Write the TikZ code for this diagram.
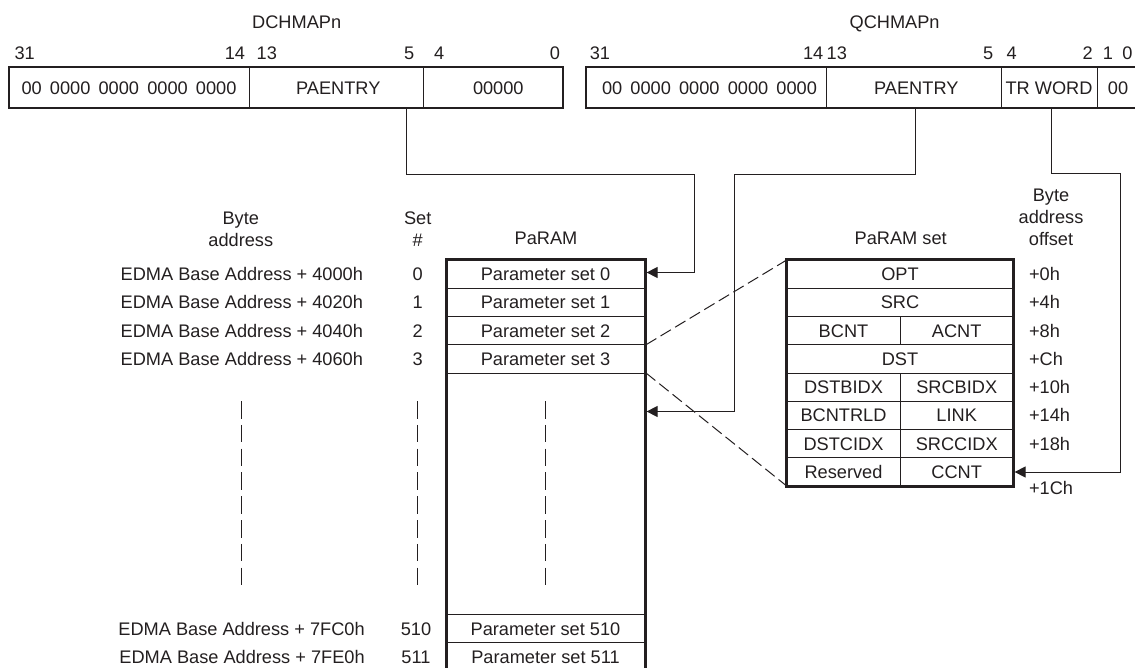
\documentclass[tikz,border=0pt]{standalone}
\usepackage{fontspec}
\setmainfont{Liberation Sans}
\usetikzlibrary{arrows.meta}
\definecolor{ink}{HTML}{231F20}
\newcommand\gp{\hspace{0.45em}}
\begin{document}
\begin{tikzpicture}[x=0.5pt,y=-0.5pt,
  every node/.style={inner sep=0pt,outer sep=0pt,text=ink,font=\fontsize{9.1}{11}\selectfont},
  lbl/.style={text height=6.52pt,text depth=0pt},
  multi/.style={align=center,anchor=north},
  thinline/.style={draw=ink,line width=0.5pt},
  regbox/.style={draw=ink,line width=1pt},
  bigbox/.style={draw=ink,line width=1.5pt},
  conn/.style={draw=ink,line width=0.5pt},
  tip/.style={-{Triangle[length=5.5pt,width=5.5pt]}},
  zoomline/.style={draw=ink,line width=0.5pt,dash pattern=on 6pt off 2.5pt},
  gapline/.style={draw=ink,line width=0.5pt,dash pattern=on 8.75pt off 3.15pt}]
\useasboundingbox (0,0) rectangle (1135,668);

% ---------------- DCHMAPn register ----------------
\node[lbl] (dtitle) at (296.7,21.7) {DCHMAPn};
\node[lbl,anchor=west] (db31) at (14.5,53.3) {31};
\node[lbl,anchor=east] (db14) at (245,53.3) {14};
\node[lbl,anchor=west] (db13) at (256.7,53.3) {13};
\node[lbl,anchor=east] (db5) at (414.3,53.3) {5};
\node[lbl,anchor=west] (db4) at (434,53.3) {4};
\node[lbl,anchor=east] (db0) at (560,53.3) {0};
\draw[thinline] (249,66.7) -- (249,108.3) (423.3,66.7) -- (423.3,108.3);
\draw[regbox] (9,66.7) rectangle (563.3,108.3);
\node[lbl] (dzero) at (129,88.3) {00\gp0000\gp0000\gp0000\gp0000};
\node[lbl] (dpa) at (338.3,88.3) {PAENTRY};
\node[lbl] (dlow) at (498.3,88.3) {00000};

% ---------------- QCHMAPn register ----------------
\node[lbl] (qtitle) at (894.6,21.7) {QCHMAPn};
\node[lbl,anchor=west] (qb31) at (589.8,53.3) {31};
\node[lbl,anchor=east] (qb14) at (823.3,53.3) {14};
\node[lbl,anchor=west] (qb13) at (826.7,53.3) {13};
\node[lbl,anchor=east] (qb5) at (993.3,53.3) {5};
\node[lbl,anchor=west] (qb4) at (1006.7,53.3) {4};
\node[lbl,anchor=east] (qb2) at (1092.7,53.3) {2};
\node[lbl] (qb1) at (1108,53.3) {1};
\node[lbl] (qb0) at (1127.5,53.3) {0};
\draw[thinline] (826,66.7) -- (826,108.3) (1001,66.7) -- (1001,108.3) (1097.7,66.7) -- (1097.7,108.3);
\draw[regbox] (1145,66.7) -- (586.2,66.7) -- (586.2,108.3) -- (1145,108.3);
\node[lbl] (qzero) at (709.5,88.3) {00\gp0000\gp0000\gp0000\gp0000};
\node[lbl] (qpa) at (916.3,88.3) {PAENTRY};
\node[lbl] (qtr) at (1049,88.3) {TR WORD};
\node[lbl] (qlow) at (1118,88.3) {00};

% ---------------- column headings ----------------
\node[multi] (hbyte) at (240.8,211.5) {Byte\\address};
\node[multi] (hset) at (417.7,211.5) {Set\\\#};
\node[lbl] (hparam) at (546,238) {PaRAM};
\node[lbl] (hpset) at (900.7,238) {PaRAM set};
\node[multi] (hoff) at (1051,189) {Byte\\address\\offset};

% ---------------- address / set labels ----------------
\node[lbl,anchor=east] (a0) at (363,274.1) {EDMA Base Address + 4000h};
\node[lbl,anchor=east] (a1) at (363,302.4) {EDMA Base Address + 4020h};
\node[lbl,anchor=east] (a2) at (363,330.6) {EDMA Base Address + 4040h};
\node[lbl,anchor=east] (a3) at (363,358.9) {EDMA Base Address + 4060h};
\node[lbl,anchor=east] (a510) at (364.7,628.5) {EDMA Base Address + 7FC0h};
\node[lbl,anchor=east] (a511) at (364.7,656.8) {EDMA Base Address + 7FE0h};
\node[lbl] (s0) at (417.7,274.1) {0};
\node[lbl] (s1) at (417.7,302.4) {1};
\node[lbl] (s2) at (417.7,330.6) {2};
\node[lbl] (s3) at (417.7,358.9) {3};
\node[lbl] (s510) at (416,628.5) {510};
\node[lbl] (s511) at (416,656.8) {511};

% ---------------- ellipsis dashes ----------------
\draw[gapline] (241,401) -- (241,585);
\draw[gapline] (417.7,401) -- (417.7,585);
\draw[gapline] (545,401) -- (545,585);

% ---------------- zoom lines ----------------
\draw[zoomline] (646,344.75) -- (786.7,260);
\draw[zoomline] (646,373) -- (786.7,486);

% ---------------- PaRAM column ----------------
\draw[thinline] (446,288.25) -- (645,288.25) (446,316.5) -- (645,316.5)
  (446,344.75) -- (645,344.75) (446,373) -- (645,373)
  (446,614.3) -- (645,614.3) (446,642.6) -- (645,642.6);
\draw[bigbox] (446,260) rectangle (645,671);
\node[lbl] (p0) at (545.5,274.1) {Parameter set 0};
\node[lbl] (p1) at (545.5,302.4) {Parameter set 1};
\node[lbl] (p2) at (545.5,330.6) {Parameter set 2};
\node[lbl] (p3) at (545.5,358.9) {Parameter set 3};
\node[lbl] (p510) at (545.5,628.5) {Parameter set 510};
\node[lbl] (p511) at (545.5,656.8) {Parameter set 511};

% ---------------- PaRAM set box ----------------
\draw[thinline] (786.7,288.25) -- (1013,288.25) (786.7,316.5) -- (1013,316.5)
  (786.7,344.75) -- (1013,344.75) (786.7,373) -- (1013,373)
  (786.7,401.25) -- (1013,401.25) (786.7,429.5) -- (1013,429.5)
  (786.7,457.75) -- (1013,457.75)
  (900.3,316.5) -- (900.3,344.75) (900.3,373) -- (900.3,486);
\draw[bigbox] (786.7,260) rectangle (1013,486);
\node[lbl] (opt) at (900,274.1) {OPT};
\node[lbl] (src) at (900,302.4) {SRC};
\node[lbl] (bcnt) at (843.5,330.6) {BCNT};
\node[lbl] (acnt) at (956.7,330.6) {ACNT};
\node[lbl] (dst) at (900,358.9) {DST};
\node[lbl] (dstbidx) at (843.5,387.1) {DSTBIDX};
\node[lbl] (srcbidx) at (956.7,387.1) {SRCBIDX};
\node[lbl] (bcntrld) at (843.5,415.4) {BCNTRLD};
\node[lbl] (link) at (956.7,415.4) {LINK};
\node[lbl] (dstcidx) at (843.5,443.6) {DSTCIDX};
\node[lbl] (srccidx) at (956.7,443.6) {SRCCIDX};
\node[lbl] (rsvd) at (843.5,471.9) {Reserved};
\node[lbl] (ccnt) at (956.7,471.9) {CCNT};

% offsets
\node[lbl,anchor=west] (o0) at (1029,274.1) {+0h};
\node[lbl,anchor=west] (o4) at (1029,302.4) {+4h};
\node[lbl,anchor=west] (o8) at (1029,330.6) {+8h};
\node[lbl,anchor=west] (oc) at (1029,358.9) {+Ch};
\node[lbl,anchor=west] (o10) at (1029,387.1) {+10h};
\node[lbl,anchor=west] (o14) at (1029,415.4) {+14h};
\node[lbl,anchor=west] (o18) at (1029,443.6) {+18h};
\node[lbl,anchor=west] (o1c) at (1029,488) {+1Ch};

% ---------------- connectors ----------------
\coordinate (dtap) at (406.7,108.3);
\coordinate (qtap) at (915.7,108.3);
\coordinate (ttap) at (1051.7,108.3);
\coordinate (pin0) at (646.6,272.5);
\coordinate (pinq) at (646.6,411.5);
\coordinate (ccin) at (1014.6,472);
\draw[conn,tip] (dtap) -- (406.7,175) -- (694,175) -- (694,272.5) -- (pin0);
\draw[conn,tip] (qtap) -- (915.7,175) -- (734,175) -- (734,411.5) -- (pinq);
\draw[conn,tip] (ttap) -- (1051.7,174) -- (1120.7,174) -- (1120.7,472) -- (ccin);
\end{tikzpicture}
\end{document}
